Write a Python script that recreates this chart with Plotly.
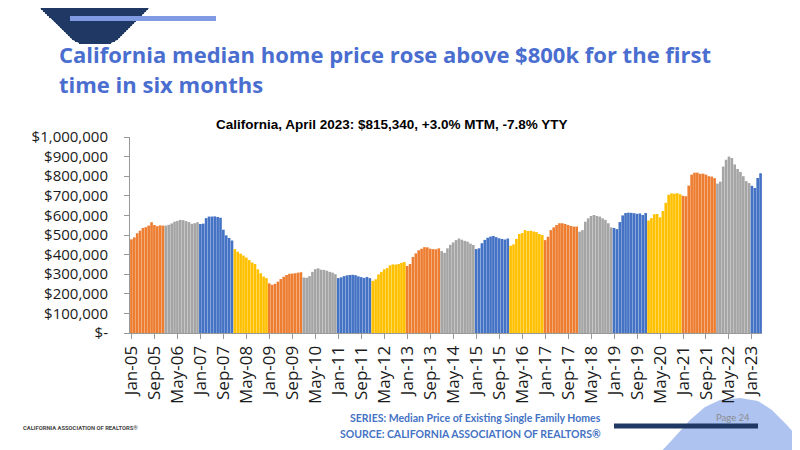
import plotly.graph_objects as go

# медианная цена, тыс. $
p2005 = [478, 488, 509, 522, 536, 540, 548, 565, 551, 545, 549, 548]
p2006 = [548, 552, 559, 568, 572, 577, 576, 571, 566, 557, 560, 565]
p2007 = [556, 558, 586, 594, 594, 595, 592, 588, 527, 498, 485, 472]
p2008 = [428, 415, 405, 395, 385, 372, 360, 352, 325, 305, 288, 280]
p2009 = [253, 246, 251, 262, 275, 287, 296, 302, 303, 305, 308, 310]
p2010 = [283, 282, 290, 312, 326, 330, 323, 322, 318, 312, 308, 300]
p2011 = [280, 284, 290, 294, 296, 297, 295, 289, 285, 281, 286, 280]
p2012 = [266, 274, 299, 312, 325, 331, 345, 350, 349, 352, 358, 362]
p2013 = [342, 352, 388, 406, 422, 430, 438, 437, 430, 428, 427, 432]
p2014 = [418, 409, 432, 450, 462, 474, 482, 476, 470, 466, 456, 449]
p2015 = [428, 432, 458, 475, 486, 492, 495, 489, 483, 480, 477, 482]
p2016 = [445, 452, 480, 505, 510, 525, 520, 522, 518, 515, 505, 500]
p2017 = [474, 491, 525, 539, 551, 560, 560, 556, 551, 546, 543, 543]
p2018 = [517, 525, 568, 585, 597, 602, 597, 594, 585, 577, 560, 539]
p2019 = [536, 530, 566, 600, 612, 614, 613, 611, 608, 610, 602, 612]
p2020 = [574, 586, 606, 607, 590, 622, 664, 705, 712, 711, 713, 708]
p2021 = [700, 698, 752, 808, 818, 818, 812, 813, 808, 800, 798, 790]
p2022 = [762, 772, 849, 884, 900, 893, 860, 837, 822, 800, 775, 765]
p2023 = [751, 740, 791, 815]

years = list(range(2005, 2024))
yearly = [p2005, p2006, p2007, p2008, p2009, p2010, p2011, p2012, p2013, p2014,
          p2015, p2016, p2017, p2018, p2019, p2020, p2021, p2022, p2023]
month_names = ["Jan", "Feb", "Mar", "Apr", "May", "Jun",
               "Jul", "Aug", "Sep", "Oct", "Nov", "Dec"]

y_ticks = [0, 100000, 200000, 300000, 400000, 500000,
           600000, 700000, 800000, 900000, 1000000]
y_labels = ["$-", "$100,000", "$200,000", "$300,000", "$400,000", "$500,000",
            "$600,000", "$700,000", "$800,000", "$900,000", "$1,000,000"]

palette = ["#ED7D31", "#A5A5A5", "#4472C4", "#FFC000"]

labels, values, colors = [], [], []
for i, (yr, vals) in enumerate(zip(years, yearly)):
    for m, v in enumerate(vals):
        labels.append(f"{month_names[m]}-{str(yr)[2:]}")
        values.append(v * 1000)
        colors.append(palette[i % 4])

# страница браузера даёт отступ 8px, поэтому всё считаем в экранных пикселях
W, H, OFF = 800, 450, 8
X0, X1, Y0, Y1 = 130, 762, 137, 333   # область построения на экране
pw, ph = X1 - X0, Y1 - Y0


def px(x):
    return (x - X0) / pw


def py(y):
    return (Y1 - y) / ph


def poly(points):
    s = " L ".join(f"{px(x):.5f},{py(y):.5f}" for x, y in points)
    return "M " + s + " Z"


def edge(pts, y):
    # x края уголка на высоте y (ломаная по точкам контура)
    for (xa, ya), (xb, yb) in zip(pts, pts[1:]):
        if ya <= y <= yb:
            return xa + (xb - xa) * (y - ya) / (yb - ya)
    return pts[-1][0]


def block(x0, x1, y0, y1, color):
    # прямоугольник-аннотация (рисуется в верхнем слое)
    return dict(text="", x=px((x0 + x1) / 2), y=py((y0 + y1) / 2),
                xanchor="center", yanchor="middle",
                width=x1 - x0, height=y1 - y0, bgcolor=color,
                borderpad=0, borderwidth=0, font=dict(size=1))


fig = go.Figure(go.Bar(
    x=labels, y=values,
    marker=dict(color=colors, line=dict(width=0)),
    hovertemplate="%{x}: $%{y:,.0f}<extra></extra>",
))

axis_font = dict(family="Open Sans", size=15, color="#1a1a1a")
fig.update_layout(
    width=W, height=H,
    margin=dict(l=X0 - OFF, r=W - (X1 - OFF), t=Y0 - OFF, b=H - (Y1 - OFF)),
    paper_bgcolor="white", plot_bgcolor="white",
    bargap=0.08, showlegend=False,
    xaxis=dict(
        type="category", range=[-0.5, len(labels) - 0.5],
        tickmode="array", tickvals=labels[::8], ticktext=labels[::8],
        tickangle=-90, tickfont=dict(axis_font, size=17),
        ticks="outside", ticklen=5, tickcolor="#999",
        showline=True, linecolor="#999", showgrid=False,
    ),
    yaxis=dict(
        range=[0, 1000000], tickmode="array", tickvals=y_ticks, ticktext=y_labels,
        tickfont=axis_font, ticks="outside", ticklen=5, tickcolor="#999",
        showline=True, linecolor="#999", showgrid=False, zeroline=False,
        ticklabelstandoff=13,
    ),
)

navy = "#1F3864"
corner = [(32, 0), (157, 0), (122, 35), (117, 40), (109, 44), (81, 44),
          (73, 40), (68, 35)]
left_edge = [(32, 0), (68, 35), (73, 40), (81, 44)]
right_edge = [(157, 0), (122, 35), (117, 40), (109, 44)]
wave = [(658, 455), (672, 440), (690, 420), (705, 407), (720, 400), (740, 398),
        (758, 401), (772, 410), (786, 424), (800, 440), (805, 455)]
shapes = [
    dict(type="path", xref="paper", yref="paper", layer="above",
         path=poly(corner), fillcolor=navy, line=dict(width=0)),
    dict(type="path", xref="paper", yref="paper", layer="below",
         path=poly(wave), fillcolor="#AEC3F0", line=dict(width=0)),
    dict(type="line", xref="paper", yref="paper", layer="above",
         x0=px(614), x1=px(758), y0=py(426), y1=py(426),
         line=dict(color=navy, width=5)),
]
fig.update_layout(shapes=shapes)

# уголок ещё раз полосками-аннотациями, чтобы он был виден целиком
ann = []
for y in range(8, 44, 2):
    ym = y + 1
    ann.append(block(round(edge(left_edge, ym)), round(edge(right_edge, ym)), y, y + 2, navy))
ann.append(block(70, 216, 16, 21, "#809BE3"))

title_font = dict(family="Open Sans", size=22, color="#4A6ECF", weight="bold")
foot_font = dict(family="Lato", size=10.5, color="#4472C4", weight="bold")
ann += [
    dict(text="California median home price rose above $800k for the first",
         x=px(57), y=py(54), xanchor="left", yanchor="middle", font=title_font),
    dict(text="time in six months",
         x=px(57), y=py(84), xanchor="left", yanchor="middle", font=title_font),
    dict(text="California, April 2023: $815,340, +3.0% MTM, -7.8% YTY",
         x=px(392), y=py(125), xanchor="center", yanchor="middle",
         font=dict(family="Liberation Sans", size=13.5, color="black", weight="bold")),
    dict(text="SERIES: Median Price of Existing Single Family Homes",
         x=px(603), y=py(418), xanchor="right", yanchor="middle", font=foot_font),
    dict(text="SOURCE: CALIFORNIA ASSOCIATION OF REALTORS®",
         x=px(603), y=py(434), xanchor="right", yanchor="middle", font=foot_font),
    dict(text="Page 24", x=px(733), y=py(417), xanchor="center", yanchor="middle",
         font=dict(family="Lato", size=9.5, color="#8C8C8C")),
    dict(text="CALIFORNIA ASSOCIATION OF REALTORS®",
         x=px(21), y=py(428), xanchor="left", yanchor="middle",
         font=dict(family="Roboto", size=5.8, color="#444", weight="bold")),
]
for a in ann:
    a.update(xref="paper", yref="paper", showarrow=False)
fig.update_layout(annotations=ann)

fig.write_html("out.html")
